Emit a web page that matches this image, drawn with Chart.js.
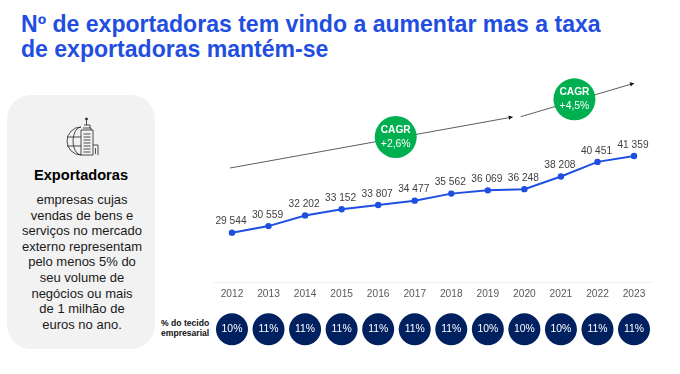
<!DOCTYPE html>
<html lang="pt">
  <head>
    <meta charset="UTF-8" />
    <title>exportadoras</title>
    <script src="https://cdn.jsdelivr.net/npm/chart.js"></script>
    <style>
      html, body { margin: 0; padding: 0; background: #fff; font-family: "Liberation Sans", Arial, sans-serif; }
      #page { position: relative; width: 680px; height: 374px; overflow: hidden; }
      #page > * { position: absolute; }
      #title { left: 21px; top: 12px; margin: 0; font-size: 23.05px; line-height: 25px; font-weight: bold; color: #1f4ee0; white-space: nowrap; }
      #panel { left: 7px; top: 95px; width: 148px; height: 254px; border-radius: 24px; background: #f2f2f2; }
      #icon { left: 62px; top: 116px; }
      #panel-head { left: 7px; width: 148px; top: 167px; text-align: center; font-size: 14.6px; font-weight: bold; color: #000; }
      #panel-text { left: 7px; width: 150px; top: 192px; text-align: center; font-size: 13px; line-height: 15.6px; color: #1a1a1a; white-space: nowrap; }
      #row-label { left: 161px; top: 318px; font-size: 8.6px; line-height: 10.4px; font-weight: bold; color: #111; white-space: nowrap; }
      canvas { left: 0; top: 0; }
    </style>
  </head>
  <body>
    <div id="page">
      <h1 id="title">Nº de exportadoras tem vindo a aumentar mas a taxa<br />de exportadoras mantém-se</h1>
      <div id="panel"></div>
      <svg id="icon" width="40" height="42" viewBox="0 0 40 42" fill="none" stroke="#222" stroke-width="0.8">
        <path d="M19 11 A14 14 0 0 0 19 39 M19 11 A8 14 0 0 0 19 39 M5 21 H19 M5 30 H19" />
        <path d="M19 14 H31 V39 H19 Z M21 12 H29 V14 M22 9 H28 V12 M24.500 3 V9" />
        <circle cx="24.500" cy="3" r="1" fill="#222" />
        <path d="M21.500 18 H28.500 M21.500 21 H28.500 M21.500 24 H28.500 M21.500 27 H28.500 M21.500 30 H28.500 M21.500 33 H28.500 M21.500 36 H28.500" />
        <path d="M31 29 H36 V39 M33.500 32 V38" />
      </svg>
      <div id="panel-head">Exportadoras</div>
      <div id="panel-text">empresas cujas<br />vendas de bens e<br />serviços no mercado<br />externo representam<br />pelo menos 5% do<br />seu volume de<br />negócios ou mais<br />de 1 milhão de<br />euros no ano.</div>
      <div id="row-label">% do tecido<br />empresarial</div>
      <canvas id="chart" width="680" height="374"></canvas>
    </div>

    <script>
      const years = ['2012', '2013', '2014', '2015', '2016', '2017', '2018', '2019', '2020', '2021', '2022', '2023'];
      const exporters = [29544, 30559, 32202, 33152, 33807, 34477, 35562, 36069, 36248, 38208, 40451, 41359];
      const exporterLabels = ['29 544', '30 559', '32 202', '33 152', '33 807', '34 477', '35 562', '36 069', '36 248', '38 208', '40 451', '41 359'];
      const sharePct = ['10%', '11%', '11%', '11%', '11%', '11%', '11%', '10%', '10%', '10%', '11%', '11%'];

      // trend arrows and the CAGR badges sitting on them
      const trendOneX = [2011.95, 2019.68];
      const trendOneY = [39510, 47368];
      const trendTwoX = [2019.9, 2023];
      const trendTwoY = [47415, 52560];
      const cagrX = [2016.48, 2021.37];
      const cagrY = [44287, 50095];
      const cagrLabels = ['+2,6%', '+4,5%'];

      const FONT = '"Liberation Sans", Arial, sans-serif';

      const pairs = (xs, ys) => xs.map((x, i) => ({ x: x, y: ys[i] }));

      const trendDataset = (xs, ys) => ({
        type: 'line',
        data: pairs(xs, ys),
        xAxisID: 'xTrend',
        borderColor: '#333',
        borderWidth: 0.8,
        pointRadius: 0,
        order: 3,
        isTrend: true,
      });

      // labels, badge text and arrow heads
      const overlay = {
        id: 'overlay',
        afterDatasetsDraw(chart) {
          const ctx = chart.ctx;
          ctx.save();
          ctx.textAlign = 'center';
          ctx.textBaseline = 'middle';

          chart.data.datasets.forEach((ds, i) => {
            const pts = chart.getDatasetMeta(i).data;
            if (ds.isTrend) {
              const a = pts[0], b = pts[pts.length - 1];
              const ang = Math.atan2(b.y - a.y, b.x - a.x);
              ctx.fillStyle = '#111';
              ctx.beginPath();
              ctx.moveTo(b.x, b.y);
              ctx.lineTo(b.x - 4.5 * Math.cos(ang - 0.5), b.y - 4.5 * Math.sin(ang - 0.5));
              ctx.lineTo(b.x - 4.5 * Math.cos(ang + 0.5), b.y - 4.5 * Math.sin(ang + 0.5));
              ctx.closePath();
              ctx.fill();
            }
            if (ds.id === 'exporters') {
              ctx.fillStyle = '#404040';
              ctx.font = '10.2px ' + FONT;
              pts.forEach((p, j) => ctx.fillText(exporterLabels[j], p.x - 1, p.y - 11));
            }
            if (ds.id === 'share') {
              ctx.fillStyle = '#fff';
              ctx.font = '10.4px ' + FONT;
              pts.forEach((p, j) => ctx.fillText(sharePct[j], p.x, p.y));
            }
            if (ds.id === 'cagr') {
              ctx.fillStyle = '#fff';
              pts.forEach((p, j) => {
                ctx.font = 'bold 10.2px ' + FONT;
                ctx.fillText('CAGR', p.x, p.y - 7);
                ctx.font = '10.4px ' + FONT;
                ctx.fillText(cagrLabels[j], p.x, p.y + 7);
              });
            }
          });
          ctx.restore();
        },
      };

      new Chart(document.getElementById('chart'), {
        type: 'line',
        data: {
          labels: years,
          datasets: [
            {
              id: 'exporters',
              data: exporters,
              borderColor: '#1f4fe0',
              backgroundColor: '#1f4fe0',
              borderWidth: 2,
              pointRadius: 2.2,
              tension: 0,
              order: 1,
            },
            {
              id: 'share',
              data: years.map(() => 1),
              yAxisID: 'yRow',
              showLine: false,
              pointRadius: 16,
              pointBorderWidth: 0,
              backgroundColor: '#002060',
              order: 1,
            },
            {
              id: 'cagr',
              type: 'line',
              data: pairs(cagrX, cagrY),
              xAxisID: 'xTrend',
              showLine: false,
              pointRadius: 21,
              pointBorderWidth: 0,
              backgroundColor: '#00b050',
              order: 1,
            },
            trendDataset(trendOneX, trendOneY),
            trendDataset(trendTwoX, trendTwoY),
          ],
        },
        plugins: [overlay],
        options: {
          responsive: false,
          animation: false,
          events: [],
          layout: { padding: { left: 213.7, right: 27.7, top: 60, bottom: 0 } },
          plugins: { legend: { display: false }, tooltip: { enabled: false }, title: { display: false } },
          scales: {
            x: {
              position: { y: 21794 },
              offset: true,
              grid: { display: false, drawTicks: false },
              border: { color: '#f2f2f2', width: 1 },
              ticks: { color: '#595959', font: { family: FONT, size: 10.2 }, padding: 5, maxRotation: 0, autoSkip: false },
            },
            xTrend: { type: 'linear', axis: 'x', display: false, min: 2011.5, max: 2023.5 },
            y: { display: false, min: 11004, max: 56150 },
            yRow: { type: 'linear', axis: 'y', display: false, min: 0, max: 12.35 },
          },
        },
      });
    </script>
  </body>
</html>
